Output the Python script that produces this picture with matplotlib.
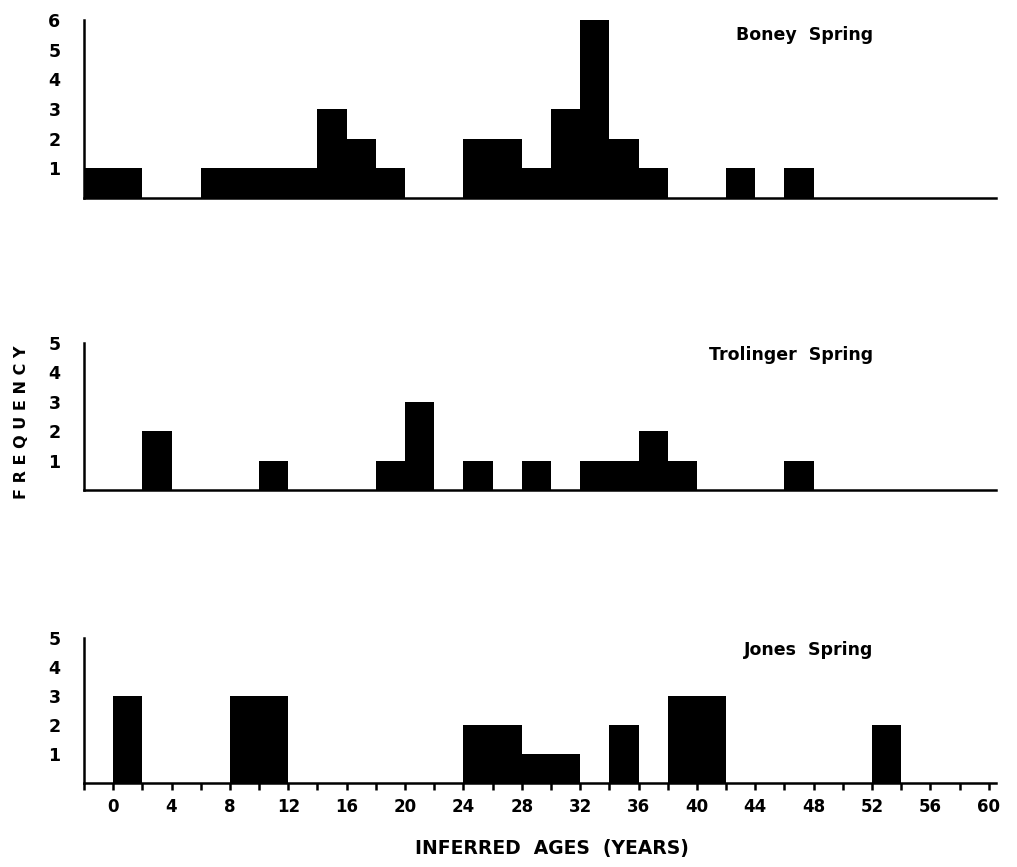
import numpy as np
import matplotlib
matplotlib.use("Agg")
import matplotlib.pyplot as plt

# 2-year age classes (left edge of each bin)
bin_starts = [-2, 0, 2, 4, 6, 8, 10, 12, 14, 16, 18, 20, 22, 24, 26, 28,
              30, 32, 34, 36, 38, 40, 42, 44, 46, 48, 50, 52, 54, 56, 58]

boney = [1, 1, 0, 0, 1, 1, 1, 1, 3, 2, 1, 0, 0, 2, 2, 1,
         3, 6, 2, 1, 0, 0, 1, 0, 1, 0, 0, 0, 0, 0, 0]
trolinger = [0, 0, 2, 0, 0, 0, 1, 0, 0, 0, 1, 3, 0, 1, 0, 1,
             0, 1, 1, 2, 1, 0, 0, 0, 1, 0, 0, 0, 0, 0, 0]
jones = [0, 3, 0, 0, 0, 3, 3, 0, 0, 0, 0, 0, 0, 2, 2, 1,
         1, 0, 2, 0, 3, 3, 0, 0, 0, 0, 0, 2, 0, 0, 0]

sites = ["Boney  Spring", "Trolinger  Spring", "Jones  Spring"]
ymax = [6, 5, 5]
x_ticks = [0, 4, 8, 12, 16, 20, 24, 28, 32, 36, 40, 44, 48, 52, 56, 60]

plt.rcParams["font.family"] = "DejaVu Sans"
plt.rcParams["font.weight"] = "bold"

fig = plt.figure(figsize=(10.17, 8.67), dpi=100)

left, width = 0.0826, 0.8968
boxes = [
    [left, 0.7716, width, 0.2053],
    [left, 0.4348, width, 0.1696],
    [left, 0.0969, width, 0.1672],
]

for i, counts in enumerate([boney, trolinger, jones]):
    ax = fig.add_axes(boxes[i])
    ax.bar(bin_starts, counts, width=2, align="edge", color="black", linewidth=0)
    ax.set_xlim(-2, 60.5)
    ax.set_ylim(0, ymax[i])

    for s in ["top", "right"]:
        ax.spines[s].set_visible(False)
    ax.spines["left"].set_linewidth(1.8)
    ax.spines["bottom"].set_linewidth(1.8)

    ax.set_yticks(range(1, ymax[i] + 1))
    ax.tick_params(axis="y", length=0, pad=17, labelsize=12.5)

    if i == 2:
        ax.set_xticks(x_ticks)
        ax.set_xticks(np.arange(-2, 61, 2), minor=True)
        ax.tick_params(axis="x", which="both", direction="out", length=5,
                       width=1.8, pad=6, labelsize=12)
    else:
        ax.set_xticks([])

    ax.text(0.865, 0.917, sites[i], transform=ax.transAxes, ha="right",
            va="center", fontsize=12.5, fontweight="bold")

fig.text(0.021, 0.513, "F R E Q U E N C Y", rotation=90, ha="center",
         va="center", fontsize=11.5, fontweight="bold")
fig.text(0.543, 0.021, "INFERRED  AGES  (YEARS)", ha="center", va="center",
         fontsize=13.5, fontweight="bold")

plt.savefig("out.png", dpi=100)
